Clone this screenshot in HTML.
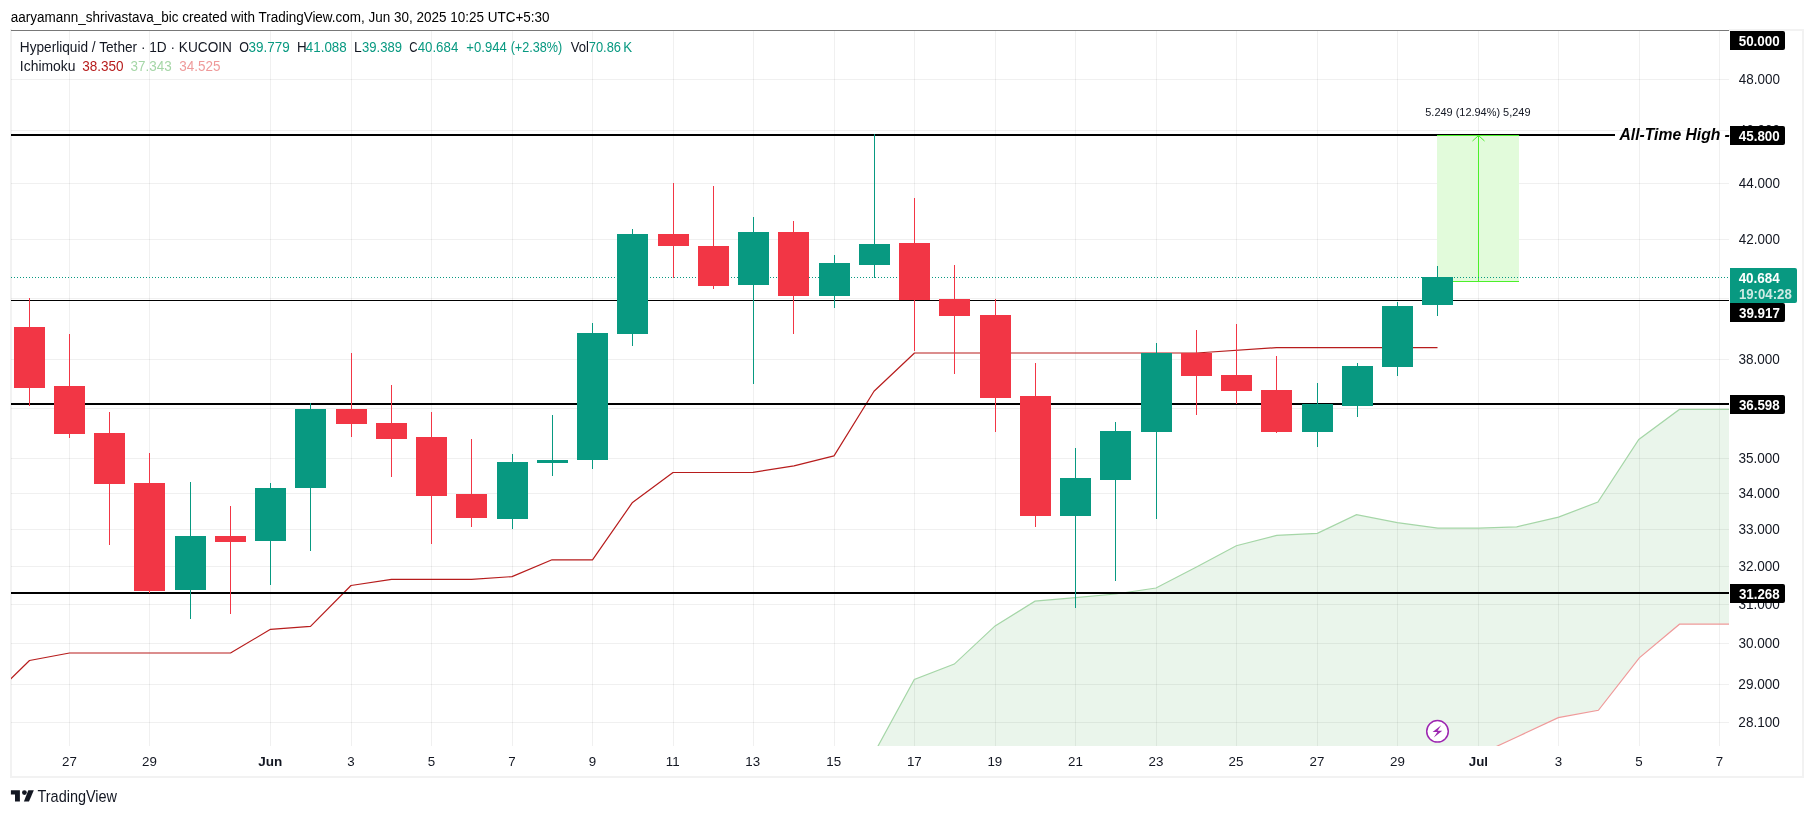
<!DOCTYPE html>
<html><head><meta charset="utf-8"><style>
html,body{margin:0;padding:0;background:#fff;overflow:hidden;}
svg{display:block;font-family:"Liberation Sans",sans-serif;will-change:transform;}
</style></head><body>
<svg width="1814" height="816" viewBox="0 0 1814 816">
<rect x="0" y="0" width="1814" height="816" fill="#ffffff"/>

<rect x="10" y="29" width="1794" height="749" fill="#f2f2f2"/>
<rect x="12" y="31" width="1790" height="745" fill="#ffffff"/>
<rect x="12" y="29" width="1717" height="1" fill="#ffffff"/>
<rect x="11" y="30" width="1718" height="1" fill="#787878"/>
<defs><clipPath id="pc"><rect x="11" y="31" width="1718" height="715"/></clipPath></defs>
<g clip-path="url(#pc)">
<g shape-rendering="crispEdges" fill="#000" fill-opacity="0.06">
<rect x="69" y="31" width="1" height="715"/>
<rect x="149" y="31" width="1" height="715"/>
<rect x="270" y="31" width="1" height="715"/>
<rect x="351" y="31" width="1" height="715"/>
<rect x="431" y="31" width="1" height="715"/>
<rect x="512" y="31" width="1" height="715"/>
<rect x="592" y="31" width="1" height="715"/>
<rect x="673" y="31" width="1" height="715"/>
<rect x="753" y="31" width="1" height="715"/>
<rect x="834" y="31" width="1" height="715"/>
<rect x="914" y="31" width="1" height="715"/>
<rect x="995" y="31" width="1" height="715"/>
<rect x="1075" y="31" width="1" height="715"/>
<rect x="1156" y="31" width="1" height="715"/>
<rect x="1236" y="31" width="1" height="715"/>
<rect x="1317" y="31" width="1" height="715"/>
<rect x="1397" y="31" width="1" height="715"/>
<rect x="1478" y="31" width="1" height="715"/>
<rect x="1558" y="31" width="1" height="715"/>
<rect x="1639" y="31" width="1" height="715"/>
<rect x="1719" y="31" width="1" height="715"/>
<rect x="11" y="79" width="1718" height="1"/>
<rect x="11" y="130" width="1718" height="1"/>
<rect x="11" y="183" width="1718" height="1"/>
<rect x="11" y="239" width="1718" height="1"/>
<rect x="11" y="298" width="1718" height="1"/>
<rect x="11" y="359" width="1718" height="1"/>
<rect x="11" y="408" width="1718" height="1"/>
<rect x="11" y="458" width="1718" height="1"/>
<rect x="11" y="493" width="1718" height="1"/>
<rect x="11" y="529" width="1718" height="1"/>
<rect x="11" y="566" width="1718" height="1"/>
<rect x="11" y="604" width="1718" height="1"/>
<rect x="11" y="643" width="1718" height="1"/>
<rect x="11" y="684" width="1718" height="1"/>
<rect x="11" y="722" width="1718" height="1"/>
</g>
<polygon points="874.4,752.7 914.3,679.5 954.3,664.1 995.1,625.9 1035.0,601.2 1075.4,597.7 1115.5,594.0 1156.0,588.0 1196.5,567.0 1236.3,545.7 1276.7,535.3 1317.3,533.3 1356.5,514.7 1397.3,522.7 1437.8,528.2 1478.8,528.1 1516.7,526.9 1558.5,517.1 1597.9,502.1 1638.8,439.4 1679.4,409.4 1740.0,409.4 1740.0,624.2 1679.5,624.2 1639.3,657.8 1598.4,710.3 1558.3,717.6 1518.0,736.5 1478.0,755.0 1437.8,773.0 1437.8,790.0 874.4,790.0" fill="#43a047" fill-opacity="0.11"/>
<polyline points="874.4,752.7 914.3,679.5 954.3,664.1 995.1,625.9 1035.0,601.2 1075.4,597.7 1115.5,594.0 1156.0,588.0 1196.5,567.0 1236.3,545.7 1276.7,535.3 1317.3,533.3 1356.5,514.7 1397.3,522.7 1437.8,528.2 1478.8,528.1 1516.7,526.9 1558.5,517.1 1597.9,502.1 1638.8,439.4 1679.4,409.4 1740.0,409.4" fill="none" stroke="#A5D6A7" stroke-width="1.2"/>
<polyline points="1740.0,624.2 1679.5,624.2 1639.3,657.8 1598.4,710.3 1558.3,717.6 1518.0,736.5 1478.0,755.0 1437.8,773.0" fill="none" stroke="#EF9A9A" stroke-width="1.2"/>
<polyline points="-11.0,700.0 29.5,660.5 69.5,653.0 230.5,653.0 270.5,629.3 310.5,626.3 351.0,585.5 391.5,579.4 471.5,579.4 512.0,576.6 552.0,559.8 592.5,559.8 632.5,502.4 673.0,472.5 753.0,472.4 794.0,465.9 834.0,455.9 874.0,391.2 914.5,353.0 1196.5,353.0 1276.5,347.6 1437.5,347.6" fill="none" stroke="#B71C1C" stroke-width="1.2" stroke-linejoin="round"/>
<g shape-rendering="crispEdges" fill="#000">
<rect x="11" y="134" width="1604" height="2"/>
<rect x="11" y="300" width="1718" height="1"/>
<rect x="11" y="403" width="1718" height="2"/>
<rect x="11" y="592" width="1718" height="2"/>
</g>
<rect x="1437" y="135" width="82" height="146" fill="#e2fbdb" shape-rendering="crispEdges"/>
<rect x="1437" y="135" width="82" height="1" fill="#4cf02a" shape-rendering="crispEdges"/>
<rect x="1437" y="281" width="82" height="1" fill="#4cf02a" shape-rendering="crispEdges"/>
<rect x="1478" y="135" width="1" height="146" fill="#4cf02a" shape-rendering="crispEdges"/>
<polyline points="1472.5,141 1478.5,135.5 1484.5,141" fill="none" stroke="#4cf02a" stroke-width="1"/>
<line x1="11" y1="277.5" x2="1729" y2="277.5" stroke="#089981" stroke-width="1" stroke-dasharray="1,2" shape-rendering="crispEdges"/>
<g shape-rendering="crispEdges">
<rect x="29" y="298" width="1" height="108" fill="#F23645"/>
<rect x="14" y="327" width="31" height="61" fill="#F23645"/>
<rect x="69" y="334" width="1" height="104" fill="#F23645"/>
<rect x="54" y="386" width="31" height="48" fill="#F23645"/>
<rect x="109" y="412" width="1" height="133" fill="#F23645"/>
<rect x="94" y="433" width="31" height="51" fill="#F23645"/>
<rect x="149" y="453" width="1" height="140" fill="#F23645"/>
<rect x="134" y="483" width="31" height="108" fill="#F23645"/>
<rect x="190" y="482" width="1" height="137" fill="#089981"/>
<rect x="175" y="536" width="31" height="54" fill="#089981"/>
<rect x="230" y="506" width="1" height="108" fill="#F23645"/>
<rect x="215" y="536" width="31" height="6" fill="#F23645"/>
<rect x="270" y="483" width="1" height="102" fill="#089981"/>
<rect x="255" y="488" width="31" height="53" fill="#089981"/>
<rect x="310" y="403" width="1" height="148" fill="#089981"/>
<rect x="295" y="409" width="31" height="79" fill="#089981"/>
<rect x="351" y="353" width="1" height="84" fill="#F23645"/>
<rect x="336" y="409" width="31" height="15" fill="#F23645"/>
<rect x="391" y="385" width="1" height="92" fill="#F23645"/>
<rect x="376" y="423" width="31" height="16" fill="#F23645"/>
<rect x="431" y="412" width="1" height="132" fill="#F23645"/>
<rect x="416" y="437" width="31" height="59" fill="#F23645"/>
<rect x="471" y="439" width="1" height="88" fill="#F23645"/>
<rect x="456" y="494" width="31" height="24" fill="#F23645"/>
<rect x="512" y="454" width="1" height="75" fill="#089981"/>
<rect x="497" y="462" width="31" height="57" fill="#089981"/>
<rect x="552" y="415" width="1" height="61" fill="#089981"/>
<rect x="537" y="460" width="31" height="3" fill="#089981"/>
<rect x="592" y="323" width="1" height="146" fill="#089981"/>
<rect x="577" y="333" width="31" height="127" fill="#089981"/>
<rect x="632" y="229" width="1" height="117" fill="#089981"/>
<rect x="617" y="234" width="31" height="100" fill="#089981"/>
<rect x="673" y="183" width="1" height="95" fill="#F23645"/>
<rect x="658" y="234" width="31" height="12" fill="#F23645"/>
<rect x="713" y="186" width="1" height="103" fill="#F23645"/>
<rect x="698" y="246" width="31" height="40" fill="#F23645"/>
<rect x="753" y="217" width="1" height="167" fill="#089981"/>
<rect x="738" y="232" width="31" height="53" fill="#089981"/>
<rect x="793" y="221" width="1" height="113" fill="#F23645"/>
<rect x="778" y="232" width="31" height="64" fill="#F23645"/>
<rect x="834" y="255" width="1" height="53" fill="#089981"/>
<rect x="819" y="263" width="31" height="33" fill="#089981"/>
<rect x="874" y="134" width="1" height="144" fill="#089981"/>
<rect x="859" y="244" width="31" height="21" fill="#089981"/>
<rect x="914" y="198" width="1" height="153" fill="#F23645"/>
<rect x="899" y="243" width="31" height="57" fill="#F23645"/>
<rect x="954" y="265" width="1" height="109" fill="#F23645"/>
<rect x="939" y="299" width="31" height="17" fill="#F23645"/>
<rect x="995" y="299" width="1" height="133" fill="#F23645"/>
<rect x="980" y="315" width="31" height="83" fill="#F23645"/>
<rect x="1035" y="363" width="1" height="164" fill="#F23645"/>
<rect x="1020" y="396" width="31" height="120" fill="#F23645"/>
<rect x="1075" y="448" width="1" height="160" fill="#089981"/>
<rect x="1060" y="478" width="31" height="38" fill="#089981"/>
<rect x="1115" y="422" width="1" height="159" fill="#089981"/>
<rect x="1100" y="431" width="31" height="49" fill="#089981"/>
<rect x="1156" y="343" width="1" height="176" fill="#089981"/>
<rect x="1141" y="353" width="31" height="79" fill="#089981"/>
<rect x="1196" y="330" width="1" height="85" fill="#F23645"/>
<rect x="1181" y="353" width="31" height="23" fill="#F23645"/>
<rect x="1236" y="324" width="1" height="80" fill="#F23645"/>
<rect x="1221" y="375" width="31" height="16" fill="#F23645"/>
<rect x="1276" y="356" width="1" height="77" fill="#F23645"/>
<rect x="1261" y="390" width="31" height="42" fill="#F23645"/>
<rect x="1317" y="383" width="1" height="64" fill="#089981"/>
<rect x="1302" y="404" width="31" height="28" fill="#089981"/>
<rect x="1357" y="363" width="1" height="54" fill="#089981"/>
<rect x="1342" y="366" width="31" height="40" fill="#089981"/>
<rect x="1397" y="302" width="1" height="74" fill="#089981"/>
<rect x="1382" y="306" width="31" height="61" fill="#089981"/>
<rect x="1437" y="266" width="1" height="50" fill="#089981"/>
<rect x="1422" y="277" width="31" height="28" fill="#089981"/>
</g>
</g>
<circle cx="1437.5" cy="731.3" r="11.6" fill="#ffffff" fill-opacity="0.9"/>
<circle cx="1437.5" cy="731.3" r="10.8" fill="#ffffff" stroke="#9C27B0" stroke-width="1.5"/>
<polygon points="1441.2,725.3 1432.6,731.9 1437.4,731.9 1433.8,737.4 1442.3,730.8 1437.6,730.8" fill="#9C27B0"/>
<g fill="#131722"><path d="M10.9,790.2 H19.9 V801.4 H15 V794.6 H10.9 Z"/><circle cx="24.4" cy="792.6" r="2.4"/><path d="M28.3,790.2 H33.8 L29,801.4 H23.9 Z"/></g>
<g>
<text x="10.76" y="21.9" font-size="14.06" fill="#000" textLength="538.74" lengthAdjust="spacingAndGlyphs">aaryamann_shrivastava_bic created with TradingView.com, Jun 30, 2025 10:25 UTC+5:30</text>
<text x="19.81" y="52" font-size="14.49" fill="#131722" textLength="212.11" lengthAdjust="spacingAndGlyphs">Hyperliquid / Tether · 1D · KUCOIN</text>
<text x="239.18" y="52" font-size="14.49" fill="#131722" textLength="9.72" lengthAdjust="spacingAndGlyphs">O</text>
<text x="248.56" y="52" font-size="14.49" fill="#089981" textLength="41.19" lengthAdjust="spacingAndGlyphs">39.779</text>
<text x="296.93" y="52" font-size="14.49" fill="#131722" textLength="9.67" lengthAdjust="spacingAndGlyphs">H</text>
<text x="305.83" y="52" font-size="14.49" fill="#089981" textLength="40.92" lengthAdjust="spacingAndGlyphs">41.088</text>
<text x="354.09" y="52" font-size="14.49" fill="#131722" textLength="7.71" lengthAdjust="spacingAndGlyphs">L</text>
<text x="361.98" y="52" font-size="14.49" fill="#089981" textLength="39.96" lengthAdjust="spacingAndGlyphs">39.389</text>
<text x="409.23" y="52" font-size="14.49" fill="#131722" textLength="8.25" lengthAdjust="spacingAndGlyphs">C</text>
<text x="417.63" y="52" font-size="14.49" fill="#089981" textLength="40.65" lengthAdjust="spacingAndGlyphs">40.684</text>
<text x="466.35" y="52" font-size="14.49" fill="#089981" textLength="40.40" lengthAdjust="spacingAndGlyphs">+0.944</text>
<text x="510.64" y="52" font-size="14.49" fill="#089981" textLength="51.69" lengthAdjust="spacingAndGlyphs">(+2.38%)</text>
<text x="570.87" y="52" font-size="14.49" fill="#131722" textLength="18.15" lengthAdjust="spacingAndGlyphs">Vol</text>
<text x="588.75" y="52" font-size="14.49" fill="#089981" textLength="32.29" lengthAdjust="spacingAndGlyphs">70.86</text>
<text x="623.23" y="52" font-size="14.49" fill="#089981" textLength="8.89" lengthAdjust="spacingAndGlyphs">K</text>
<text x="19.85" y="71" font-size="14.20" fill="#131722" textLength="55.65" lengthAdjust="spacingAndGlyphs">Ichimoku</text>
<text x="82.26" y="71" font-size="14.20" fill="#B71C1C" textLength="41.36" lengthAdjust="spacingAndGlyphs">38.350</text>
<text x="130.56" y="71" font-size="14.20" fill="#A5D6A7" textLength="41.09" lengthAdjust="spacingAndGlyphs">37.343</text>
<text x="179.26" y="71" font-size="14.20" fill="#EF9A9A" textLength="41.16" lengthAdjust="spacingAndGlyphs">34.525</text>
<text x="1738.73" y="84" font-size="14.49" fill="#131722" textLength="41.19" lengthAdjust="spacingAndGlyphs">48.000</text>
<text x="1738.73" y="135" font-size="14.49" fill="#131722" textLength="41.19" lengthAdjust="spacingAndGlyphs">46.000</text>
<text x="1738.73" y="188" font-size="14.49" fill="#131722" textLength="41.19" lengthAdjust="spacingAndGlyphs">44.000</text>
<text x="1738.73" y="244" font-size="14.49" fill="#131722" textLength="41.19" lengthAdjust="spacingAndGlyphs">42.000</text>
<text x="1738.73" y="303" font-size="14.49" fill="#131722" textLength="41.19" lengthAdjust="spacingAndGlyphs">40.000</text>
<text x="1738.46" y="364" font-size="14.49" fill="#131722" textLength="41.47" lengthAdjust="spacingAndGlyphs">38.000</text>
<text x="1738.46" y="413" font-size="14.49" fill="#131722" textLength="41.47" lengthAdjust="spacingAndGlyphs">36.500</text>
<text x="1738.46" y="463" font-size="14.49" fill="#131722" textLength="41.47" lengthAdjust="spacingAndGlyphs">35.000</text>
<text x="1738.46" y="498" font-size="14.49" fill="#131722" textLength="41.47" lengthAdjust="spacingAndGlyphs">34.000</text>
<text x="1738.46" y="534" font-size="14.49" fill="#131722" textLength="41.47" lengthAdjust="spacingAndGlyphs">33.000</text>
<text x="1738.46" y="571" font-size="14.49" fill="#131722" textLength="41.47" lengthAdjust="spacingAndGlyphs">32.000</text>
<text x="1738.46" y="609" font-size="14.49" fill="#131722" textLength="41.47" lengthAdjust="spacingAndGlyphs">31.000</text>
<text x="1738.46" y="648" font-size="14.49" fill="#131722" textLength="41.47" lengthAdjust="spacingAndGlyphs">30.000</text>
<text x="1738.32" y="689" font-size="14.49" fill="#131722" textLength="41.61" lengthAdjust="spacingAndGlyphs">29.000</text>
<text x="1738.32" y="727" font-size="14.49" fill="#131722" textLength="41.61" lengthAdjust="spacingAndGlyphs">28.100</text>
<text x="62.10" y="766.1" font-size="13.33" fill="#131722">27</text>
<text x="142.10" y="766.1" font-size="13.33" fill="#131722">29</text>
<text x="347.33" y="766.1" font-size="13.33" fill="#131722">3</text>
<text x="427.83" y="766.1" font-size="13.33" fill="#131722">5</text>
<text x="508.27" y="766.1" font-size="13.33" fill="#131722">7</text>
<text x="588.77" y="766.1" font-size="13.33" fill="#131722">9</text>
<text x="665.87" y="766.1" font-size="13.33" fill="#131722">11</text>
<text x="745.33" y="766.1" font-size="13.33" fill="#131722">13</text>
<text x="826.33" y="766.1" font-size="13.33" fill="#131722">15</text>
<text x="906.90" y="766.1" font-size="13.33" fill="#131722">17</text>
<text x="987.40" y="766.1" font-size="13.33" fill="#131722">19</text>
<text x="1068.10" y="766.1" font-size="13.33" fill="#131722">21</text>
<text x="1148.53" y="766.1" font-size="13.33" fill="#131722">23</text>
<text x="1228.53" y="766.1" font-size="13.33" fill="#131722">25</text>
<text x="1309.60" y="766.1" font-size="13.33" fill="#131722">27</text>
<text x="1390.10" y="766.1" font-size="13.33" fill="#131722">29</text>
<text x="1554.83" y="766.1" font-size="13.33" fill="#131722">3</text>
<text x="1635.33" y="766.1" font-size="13.33" fill="#131722">5</text>
<text x="1715.77" y="766.1" font-size="13.33" fill="#131722">7</text>
<text x="258.33" y="766.1" font-size="13.33" fill="#131722" font-weight="bold" textLength="24.05" lengthAdjust="spacingAndGlyphs">Jun</text>
<text x="1468.73" y="766.1" font-size="13.33" fill="#131722" font-weight="bold">Jul</text>
<text x="1619.46" y="139.7" font-size="16.09" fill="#000" font-weight="bold" font-style="italic" textLength="100.97" lengthAdjust="spacingAndGlyphs">All-Time High</text>
<text x="1724.52" y="139.7" font-size="16.09" fill="#000" font-weight="bold" font-style="italic">-</text>
<text x="1425.26" y="115.9" font-size="11.16" fill="#131722" textLength="105.27" lengthAdjust="spacingAndGlyphs">5.249 (12.94%) 5,249</text>
<text x="37.51" y="801.9" font-size="15.94" fill="#131722" textLength="79.53" lengthAdjust="spacingAndGlyphs">TradingView</text>
</g>
<path d="M1730,31 H1783 Q1785,31 1785,33 V48 Q1785,50 1783,50 H1730 Z" fill="#000"/>
<path d="M1730,126 H1783 Q1785,126 1785,128 V143 Q1785,145 1783,145 H1730 Z" fill="#000"/>
<path d="M1730,303 H1783 Q1785,303 1785,305 V320 Q1785,322 1783,322 H1730 Z" fill="#000"/>
<path d="M1730,395 H1783 Q1785,395 1785,397 V412 Q1785,414 1783,414 H1730 Z" fill="#000"/>
<path d="M1730,584 H1783 Q1785,584 1785,586 V601 Q1785,603 1783,603 H1730 Z" fill="#000"/>
<path d="M1730,268 H1795 Q1797,268 1797,270 V301 Q1797,303 1795,303 H1730 Z" fill="#089981"/>
<g>
<text x="1738.70" y="45.6" font-size="13.91" fill="#fff" font-weight="bold" textLength="41.02" lengthAdjust="spacingAndGlyphs">50.000</text>
<text x="1738.83" y="140.5" font-size="13.91" fill="#fff" font-weight="bold" textLength="40.88" lengthAdjust="spacingAndGlyphs">45.800</text>
<text x="1738.93" y="317.8" font-size="13.91" fill="#fff" font-weight="bold" textLength="41.02" lengthAdjust="spacingAndGlyphs">39.917</text>
<text x="1738.93" y="409.5" font-size="13.91" fill="#fff" font-weight="bold" textLength="40.75" lengthAdjust="spacingAndGlyphs">36.598</text>
<text x="1738.93" y="598.5" font-size="13.91" fill="#fff" font-weight="bold" textLength="40.75" lengthAdjust="spacingAndGlyphs">31.268</text>
<text x="1738.63" y="283" font-size="13.91" fill="#fff" font-weight="bold" textLength="41.19" lengthAdjust="spacingAndGlyphs">40.684</text>
<text x="1738.91" y="298.7" font-size="13.91" fill="#cdeae4" font-weight="bold" textLength="52.83" lengthAdjust="spacingAndGlyphs">19:04:28</text>
</g>
</svg></body></html>
